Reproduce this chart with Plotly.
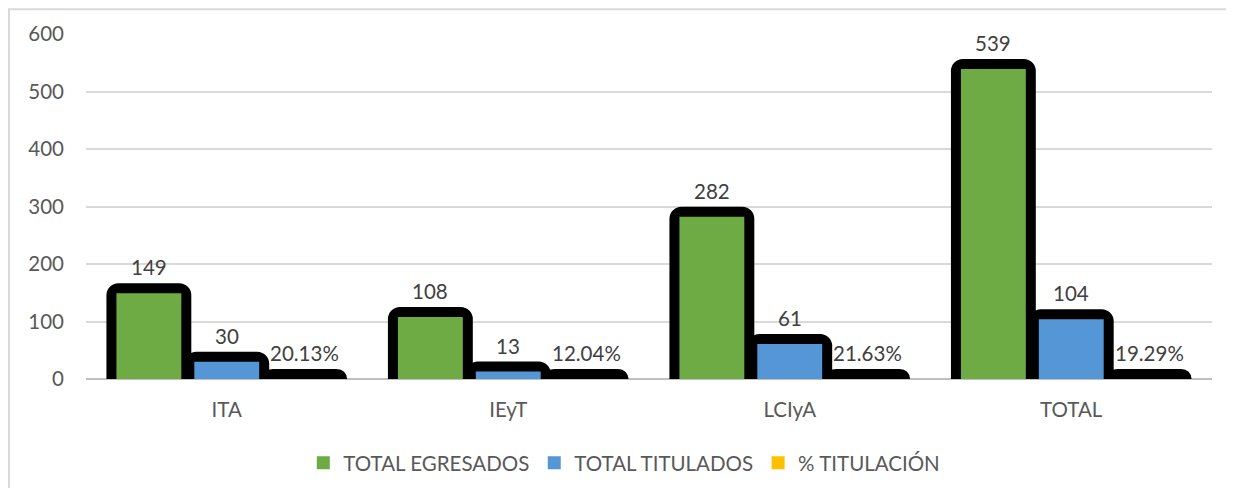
import plotly.graph_objects as go

# datos de titulación por programa
categorias = ["ITA", "IEyT", "LCIyA", "TOTAL"]
total_egresados = [149, 108, 282, 539]
total_titulados = [30, 13, 61, 104]
pct_titulacion = [20.13, 12.04, 21.63, 19.29]  # en porcentaje

series = [
    ("TOTAL EGRESADOS", total_egresados, "#6eab45", [str(v) for v in total_egresados]),
    ("TOTAL TITULADOS", total_titulados, "#5596d6", [str(v) for v in total_titulados]),
    ("% TITULACIÓN", [p / 100 for p in pct_titulacion], "#ffc000", [f"{p:.2f}%" for p in pct_titulacion]),
]

FONT = "Lato, 'Open Sans', sans-serif"
TEXT_COLOR = "#595959"
FS = 20.5

fig = go.Figure()

# cada serie: una barra negra (sombra/contorno) y la barra de color
for i, (name, values, color, labels) in enumerate(series):
    sombra = go.Bar(
        x=categorias, y=values, offsetgroup=name,
        marker=dict(color="black", line=dict(color="black", width=20), cornerradius=2),
        showlegend=False, hoverinfo="skip",
    )
    barra = go.Bar(
        x=categorias, y=values, offsetgroup=name, name=name,
        marker=dict(color=color, line=dict(width=0), cornerradius=0),
        showlegend=False, hoverinfo="skip",
    )
    # las barras de % son casi nulas: la sombra las tapa
    if i == 2:
        fig.add_trace(barra)
        fig.add_trace(sombra)
    else:
        fig.add_trace(sombra)
        fig.add_trace(barra)

# entradas de leyenda sin el contorno
for name, values, color, labels in series:
    fig.add_trace(go.Scatter(
        x=[None], y=[None], mode="markers", name=name,
        marker=dict(symbol="square", size=13, color=color),
    ))

# etiquetas de datos
annotations = []
for i, (name, values, color, labels) in enumerate(series):
    for cat, v, lab in zip(categorias, values, labels):
        annotations.append(dict(
            x=cat, y=v, xref="x", yref="y",
            text=lab, showarrow=False,
            xshift=(i - 1) * 78, yshift=12,
            yanchor="bottom",
            font=dict(family=FONT, size=FS, color="#404040"),
        ))

fig.update_layout(
    width=1218,
    height=480,
    barmode="group",
    bargap=0.17,
    bargroupgap=0.167,
    margin=dict(l=78, r=14, t=26, b=109),
    plot_bgcolor="white",
    paper_bgcolor="white",
    font=dict(family=FONT, size=FS, color=TEXT_COLOR),
    annotations=annotations,
    showlegend=True,
    legend=dict(
        orientation="h",
        xref="container", yref="container",
        x=0.506, xanchor="center",
        y=0.052, yanchor="middle",
        font=dict(family=FONT, size=FS, color=TEXT_COLOR),
        itemwidth=30,
        traceorder="normal",
    ),
    shapes=[dict(
        type="rect", xref="paper", yref="paper",
        x0=-0.0684, x1=1.05, y0=-0.5, y1=1.072,
        line=dict(color="#d9d9d9", width=2),
        fillcolor="rgba(0,0,0,0)",
        layer="below",
    )],
)

fig.update_xaxes(
    type="category",
    showgrid=False,
    showline=False,
    ticks="",
    ticklabelstandoff=16,
    tickfont=dict(family=FONT, size=FS, color=TEXT_COLOR),
)

fig.update_yaxes(
    range=[0, 600],
    dtick=100,
    showgrid=True,
    gridcolor="#d9d9d9",
    gridwidth=1.5,
    zeroline=True,
    zerolinecolor="#bfbfbf",
    zerolinewidth=1.5,
    showline=False,
    ticks="",
    ticklabelstandoff=21,
    tickfont=dict(family=FONT, size=FS, color=TEXT_COLOR),
)

fig.write_html("out.html")
